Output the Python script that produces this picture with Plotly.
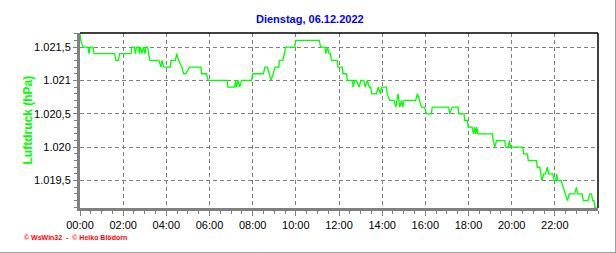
import plotly.graph_objects as go

DATE = "2022-12-06"
times = ["00:00","00:02","00:08","00:22","00:25","00:28","00:36","00:39","01:36","01:40","01:47","01:50",
 "02:22","02:24","02:31","02:34","02:37","02:43","02:45","02:48","02:52","02:56","03:01","03:03","03:08","03:12","03:14",
 "03:39","03:45","03:48","03:53","04:11","04:13","04:25","04:29","04:34","04:43","04:48","04:54","05:04","05:36","05:38",
 "05:52","05:56","06:49","06:51","07:09","07:13","07:15","07:20","07:24","07:29","07:57","08:00","08:30","08:34","08:41",
 "08:46","08:51","08:57","09:02","09:13","09:14","09:24","09:27","09:32","09:57","10:00","11:05","11:09","11:21","11:23",
 "11:28","11:32","11:36","11:39","11:55","11:57","12:09","12:11","12:21","12:23","12:38","12:39","12:44","12:49","12:56",
 "13:01","13:09","13:13","13:19","13:24","13:28","13:31","13:44","13:49","13:55","13:59","14:12","14:14","14:21","14:33",
 "14:38","14:44","14:49","14:54","14:57","15:01","15:33","15:38","15:44","15:49","15:58","16:03","16:17","16:19","17:05",
 "17:08","17:15","17:31","17:33","17:48","17:49","17:57","17:59","18:10","18:14","18:17","18:20","18:23","18:26","19:06",
 "19:09","19:13","19:18","19:41","19:43","19:50","19:54","19:57","20:31","20:33","20:44","20:46","21:09","21:11","21:18",
 "21:24","21:29","21:34","21:39","21:43","21:54","21:58","22:02","22:05","22:08","22:18","22:23","22:29","22:35","22:40",
 "22:55","23:00","23:03","23:16","23:19","23:32","23:37","23:42","23:45","23:49","23:51","23:55"]
pressure = [1021.7,1021.6,1021.5,1021.5,1021.4,1021.5,1021.5,1021.4,1021.4,1021.3,1021.3,1021.4,
 1021.4,1021.5,1021.5,1021.4,1021.5,1021.5,1021.4,1021.5,1021.4,1021.5,1021.4,1021.5,1021.5,1021.4,1021.3,
 1021.3,1021.2,1021.3,1021.2,1021.2,1021.3,1021.3,1021.4,1021.3,1021.2,1021.1,1021.1,1021.2,1021.2,1021.1,
 1021.1,1021.0,1021.0,1020.9,1020.9,1021.0,1020.9,1021.0,1020.9,1021.0,1021.0,1021.1,1021.1,1021.2,1021.2,
 1021.1,1021.0,1021.1,1021.2,1021.2,1021.3,1021.3,1021.4,1021.5,1021.5,1021.6,1021.6,1021.5,1021.5,1021.4,
 1021.5,1021.4,1021.4,1021.3,1021.3,1021.2,1021.2,1021.1,1021.1,1021.0,1021.0,1020.9,1021.0,1021.0,1020.9,
 1021.0,1021.0,1020.9,1021.0,1020.9,1020.9,1020.8,1020.8,1020.9,1020.8,1020.9,1020.9,1020.8,1020.7,1020.7,
 1020.6,1020.8,1020.6,1020.7,1020.6,1020.7,1020.7,1020.8,1020.7,1020.6,1020.6,1020.5,1020.5,1020.6,1020.6,
 1020.5,1020.6,1020.6,1020.5,1020.5,1020.4,1020.4,1020.3,1020.3,1020.2,1020.3,1020.2,1020.3,1020.2,1020.2,
 1020.1,1020.0,1020.1,1020.1,1020.0,1020.0,1020.1,1020.0,1020.0,1019.9,1019.9,1019.8,1019.8,1019.7,1019.7,
 1019.5,1019.6,1019.6,1019.7,1019.6,1019.6,1019.5,1019.5,1019.6,1019.5,1019.5,1019.4,1019.3,1019.2,1019.3,
 1019.3,1019.4,1019.3,1019.3,1019.2,1019.2,1019.3,1019.3,1019.2,1019.2,1019.1,1019.1]

x_tick_labels = ["00:00","02:00","04:00","06:00","08:00","10:00","12:00","14:00","16:00","18:00","20:00","22:00"]
y_tick_vals = [1019.5, 1020.0, 1020.5, 1021.0, 1021.5]
y_tick_labels = ["1.019,5", "1.020", "1.020,5", "1.021", "1.021,5"]

title_text = "Dienstag, 06.12.2022"
y_title = "Luftdruck (hPa)"
footer = "© WsWin32  -  © Heiko Blödorn"

xs = [f"{DATE} {t}" for t in times]
tickvals = [f"{DATE} {t}" for t in x_tick_labels]

fig = go.Figure()
fig.add_trace(go.Scatter(x=xs, y=pressure, mode="lines",
                         line=dict(color="#00FF00", width=1.3), hoverinfo="skip"))

FONT = "Liberation Sans, Arial, sans-serif"
fig.update_layout(
    width=616, height=253,
    margin=dict(l=80, r=18, t=33, b=45),
    paper_bgcolor="white", plot_bgcolor="white",
    showlegend=False,
    font=dict(family=FONT, size=11, color="black"),
)
fig.update_xaxes(
    type="date", range=[f"{DATE} 00:00", "2022-12-07 00:00"],
    tickmode="array", tickvals=tickvals, ticktext=x_tick_labels,
    showgrid=True, gridcolor="#808080", gridwidth=1, griddash="4px,3px",
    showline=True, linecolor="#808080", linewidth=3,
    ticks="outside", ticklen=5, tickcolor="#808080", tickwidth=1,
    minor=dict(tickmode="linear", tick0=f"{DATE} 00:00", dtick=1800000,
               ticks="outside", ticklen=3, tickcolor="#808080", showgrid=False),
    zeroline=False, fixedrange=True,
    tickfont=dict(family=FONT, size=11, color="black"),
)
fig.update_yaxes(
    range=[1019.09, 1021.71],
    tickmode="array", tickvals=y_tick_vals, ticktext=y_tick_labels,
    showgrid=True, gridcolor="#808080", gridwidth=1, griddash="4px,3px",
    showline=True, linecolor="#808080", linewidth=3,
    ticks="outside", ticklen=4, tickcolor="#808080", tickwidth=1,
    minor=dict(tickmode="linear", tick0=1019.0, dtick=0.1,
               ticks="outside", ticklen=3, tickcolor="#808080", showgrid=False),
    zeroline=False, fixedrange=True,
    tickfont=dict(family=FONT, size=11, color="black"),
)

# plot frame (top/right black), outer shadow border (right/bottom gray)
fig.add_shape(type="line", xref="paper", yref="paper", x0=0, x1=1, y0=1, y1=1,
              line=dict(color="black", width=1.5))
fig.add_shape(type="line", xref="paper", yref="paper", x0=1, x1=1, y0=0, y1=1,
              line=dict(color="black", width=1.5))
W, H = 518, 175
fig.add_shape(type="line", xref="paper", yref="paper",
              x0=(615.5 - 80) / W, x1=(615.5 - 80) / W, y0=-(253 - 208) / H, y1=208 / H,
              line=dict(color="#A0A0A0", width=1))
fig.add_shape(type="line", xref="paper", yref="paper",
              x0=-80 / W, x1=(616 - 80) / W, y0=-(252.5 - 208) / H, y1=-(252.5 - 208) / H,
              line=dict(color="#A0A0A0", width=1))

fig.add_annotation(text=f"<b>{title_text}</b>", xref="paper", yref="paper",
                   x=(309.5 - 80) / W, y=(208 - 19) / H, showarrow=False,
                   xanchor="center", yanchor="middle",
                   font=dict(family=FONT, size=11, color="#0000FF"))
fig.add_annotation(text=f"<b>{y_title}</b>", xref="paper", yref="paper",
                   x=(27 - 80) / W, y=(208 - 120.5) / H, showarrow=False, textangle=-90,
                   xanchor="center", yanchor="middle",
                   font=dict(family=FONT, size=12, color="#00FF00"))
fig.add_annotation(text=f"<b>{footer}</b>", xref="paper", yref="paper",
                   x=(22 - 80) / W, y=-(237 - 208) / H, showarrow=False,
                   xanchor="left", yanchor="middle",
                   font=dict(family=FONT, size=7, color="#FF0000"))

fig.write_html("out.html", config={"displayModeBar": False})
